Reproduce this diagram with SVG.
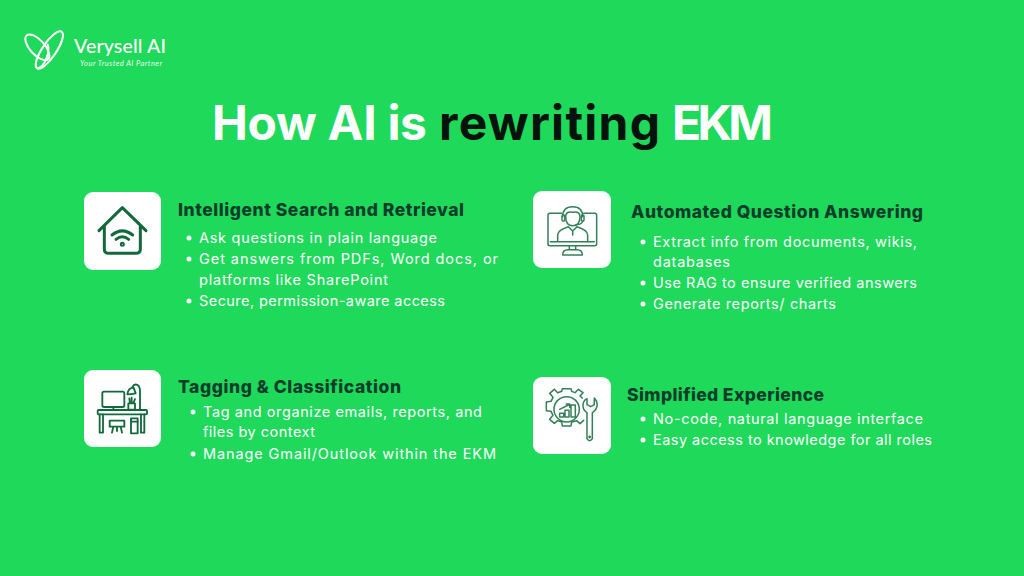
<svg xmlns="http://www.w3.org/2000/svg" width="1024" height="576" viewBox="0 0 1024 576">
<style>
.h{font-family:"Inter","Open Sans","Liberation Sans",sans-serif;font-weight:800;font-size:17.500px;fill:#0c3d2b}
.b{font-family:"Inter","Open Sans","Liberation Sans",sans-serif;font-size:14.500px;font-weight:400;fill:#fff}
.t{font-family:"Inter","Open Sans","Liberation Sans",sans-serif;font-weight:700;font-size:48px;fill:#fff}
.card{fill:#fff}
.i{fill:none;stroke:#12693c;stroke-linecap:round;stroke-linejoin:round}
.d{fill:#fff}
</style>
<rect width="1024" height="576" fill="#1ed95a"/>
<g id="logo">
<g transform="translate(0 20) scale(.3333)" fill="none" stroke="#fff" stroke-width="6">
<ellipse cx="112" cy="82" rx="48" ry="22" transform="rotate(48 112 82)"/>
<ellipse cx="148" cy="90" rx="66" ry="21" transform="rotate(-56 148 90)"/>
<path d="M142 72C152 95 135 140 112 146"/>
</g>
<text x="74" y="53" font-family="Lato,'Open Sans',sans-serif" font-size="19.500" font-weight="500" fill="#fff" textLength="92">Verysell AI</text>
<text x="80" y="66" font-family="Lato,'Open Sans',sans-serif" font-size="7.500" font-style="italic" fill="#fff" opacity=".9" textLength="82">Your Trusted AI Partner</text>
</g>
<g id="title">
<text class="t" x="212" y="140" textLength="215">How AI is</text>
<text class="t" x="439" y="140" textLength="221" style="fill:#06130c">rewriting</text>
<text class="t" x="672" y="140" textLength="101">EKM</text>
</g>
<g id="node-search">
<rect class="card" x="84" y="192" width="77" height="78" rx="9"/>
<g class="i" transform="translate(70 185) scale(.3333)" stroke-width="9">
<path d="M87 137L157 68L228 137M103 122V192Q103 205 116 205H198Q211 205 211 192V122"/>
<path d="M126 150Q157 125 188 150M138 163Q157 148 176 163"/>
<circle cx="157" cy="178" r="3"/>
</g>
<text class="h" x="178" y="216" textLength="286">Intelligent Search and Retrieval</text>
<g class="b">
<circle class="d" cx="189" cy="238" r="2.500"/><text x="199" y="243" textLength="238">Ask questions in plain language</text>
<circle class="d" cx="189" cy="259" r="2.500"/><text x="199" y="264" textLength="299">Get answers from PDFs, Word docs, or</text>
<text x="199" y="285" textLength="189">platforms like SharePoint</text>
<circle class="d" cx="189" cy="301" r="2.500"/><text x="199" y="306" textLength="246">Secure, permission-aware access</text>
</g>
</g>
<g id="node-answering">
<rect class="card" x="533" y="191" width="78" height="77" rx="9"/>
<g class="i" transform="translate(525 185) scale(.3333)" stroke-width="4.500" opacity=".85">
<path d="M110 85H75Q69 85 69 91V176Q69 182 75 182H209Q215 182 215 176V91Q215 85 209 85H176"/>
<path d="M133 182V194H152V182M113 210Q113 194 128 194H157Q172 194 172 210Z"/>
<path d="M113 95Q113 65 143 65Q173 65 173 95"/>
<path d="M122 95Q122 78 143 82Q165 78 165 95Q165 122 143 122Q122 122 122 95Z"/>
<rect x="111" y="90" width="8" height="18" rx="3"/><rect x="169" y="90" width="8" height="18" rx="3"/>
<path d="M173 108Q172 118 152 120"/>
<path d="M98 168V150Q98 135 130 125L143 138L156 125Q188 135 188 150V168M143 138V150M76 170H208"/>
</g>
<text class="h" x="631" y="218" textLength="292">Automated Question Answering</text>
<circle class="d" cx="643" cy="242" r="2.500"/><text class="b" x="653" y="247" textLength="264">Extract info from documents, wikis,</text>
<text class="b" x="653" y="267" textLength="77">databases</text>
<circle class="d" cx="643" cy="283" r="2.500"/><text class="b" x="653" y="288" textLength="264">Use RAG to ensure verified answers</text>
<circle class="d" cx="643" cy="304" r="2.500"/><text class="b" x="653" y="309" textLength="183">Generate reports/ charts</text>
</g>
<g id="node-tagging">
<rect class="card" x="84" y="370" width="77" height="77" rx="9"/>
<g class="i" transform="translate(75 365) scale(.3333)" stroke-width="5.500">
<rect x="82" y="80" width="66" height="46" rx="5"/>
<path d="M115 126V133"/>
<rect x="68" y="135" width="148" height="13" rx="3"/>
<path d="M74 148V203H84V148M198 148V203H208V148"/>
<path d="M104 167H148V185H104ZM115 185L111 203M137 185L141 203M126 185V198"/>
<rect x="168" y="160" width="20" height="45"/><path d="M168 170H188"/>
<path d="M160 115H180V134H160ZM165 115L163 100M170 115V98M175 115L180 102"/>
<path d="M157 88Q160 68 176 68L182 85Q170 88 157 88ZM172 66Q178 55 188 60Q195 65 195 78V135"/>
</g>
<text class="h" x="178" y="393" textLength="223">Tagging &amp; Classification</text>
<circle class="d" cx="193" cy="412" r="2.500"/><text class="b" x="203" y="417" textLength="279">Tag and organize emails, reports, and</text>
<text class="b" x="203" y="437" textLength="112">files by context</text>
<circle class="d" cx="193" cy="454" r="2.500"/><text class="b" x="203" y="459" textLength="293">Manage Gmail/Outlook within the EKM</text>
</g>
<g id="node-experience">
<rect class="card" x="533" y="377" width="78" height="77" rx="9"/>
<g class="i" transform="translate(525 372) scale(.3333)" stroke-width="4.500" opacity=".85">
<path d="M172 78L165 72L174 62L160 52L150 62L140 58L138 50H112L110 58L98 62L88 52L74 64L84 76L78 88L64 90V116L78 118L84 130L74 142L88 154L98 146L110 150L112 162H138L140 150L155 146L165 155L176 145"/>
<circle cx="125" cy="112" r="38"/>
<path d="M104 124h12v11h-12zM120 115h12v20h-12zM138 99h13v36h-13zM104 112L130 99M124 96H134V106"/>
<path d="M186 80C170 88 170 112 186 122V200Q194 212 202 200V122C218 112 222 92 208 78V98L197 104L186 98Z"/>
<circle cx="194" cy="195" r="2"/>
</g>
<text class="h" x="627" y="401" textLength="197">Simplified Experience</text>
<circle class="d" cx="643" cy="419" r="2.500"/><text class="b" x="653" y="424" textLength="270">No-code, natural language interface</text>
<circle class="d" cx="643" cy="440" r="2.500"/><text class="b" x="653" y="445" textLength="279">Easy access to knowledge for all roles</text>
</g>
</svg>
